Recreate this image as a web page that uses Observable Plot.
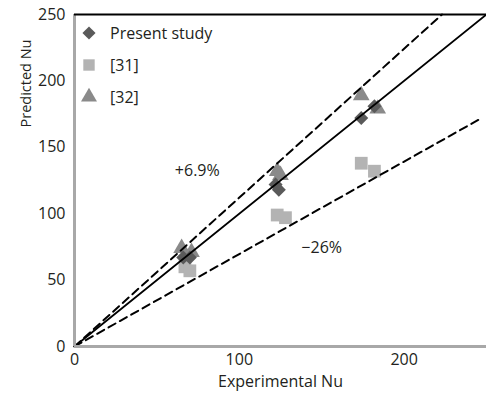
<!DOCTYPE html>
<html>
<head>
<meta charset="utf-8">
<script src="https://cdn.jsdelivr.net/npm/d3@7"></script>
<script src="https://cdn.jsdelivr.net/npm/@observablehq/plot@0.6"></script>
<style>
  html, body { margin: 0; padding: 0; background: #fff; }
  #wrap { position: relative; width: 486px; height: 398px; font-family: "Open Sans", sans-serif; color: #231f20; }
  #legend { position: absolute; left: 79px; top: 17px; font-size: 16px; }
  #legend div { display: flex; align-items: center; height: 32px; }
  #legend svg { width: 20px; height: 20px; margin-right: 11px; }
  #chart svg g[aria-label$="axis tick label"] text { font-size: 16px; }
</style>
</head>
<body>
<div id="wrap">
  <div id="chart"></div>
  <div id="legend"></div>
</div>
<script>
// Experimental Nu vs Predicted Nu
const presentStudy = [[66, 67], [70, 67], [122, 122], [124, 118], [174, 172], [182, 181]];
const ref31 = [[67, 60], [70, 57], [123, 99], [128, 97], [174, 138], [182, 132]];
const ref32 = [[65, 74], [71, 71], [123, 132], [125, 129], [174, 189], [184, 179]];

const seriesNames = ["Present study", "[31]", "[32]"];
const seriesColors = ["#5a5a5a", "#b3b3b3", "#8a8a8a"];

const xTicks = [0, 100, 200];
const yTicks = [0, 50, 100, 150, 200, 250];
const xLabel = "Experimental Nu";
const yLabel = "Predicted Nu";

// reference lines (end points)
const parityLine = [[0, 0], [250, 250]];
const upperLine = [[0, 0], [223, 250]];
const lowerLine = [[0, 0], [247, 172]];

const annotations = [
  {x: 74.5, y: 132.5, text: "+6.9%"},
  {x: 150, y: 74, text: "\u221226%"}
];

const textColor = "#231f20";
const axisGrey = "#a8a8a8";

const chart = Plot.plot({
  width: 486,
  height: 398,
  marginLeft: 74,
  marginRight: 0,
  marginTop: 14,
  marginBottom: 52,
  style: {fontFamily: "Open Sans, sans-serif", fontSize: "16px", color: textColor, background: "#fff"},
  x: {domain: [0, 250], ticks: xTicks, tickSize: 0, tickPadding: 7, label: null},
  y: {domain: [0, 250], ticks: yTicks, tickSize: 0, tickPadding: 9, label: null},
  marks: [
    Plot.dot(ref31, {x: d => d[0], y: d => d[1], symbol: "square", r: 7.2, fill: seriesColors[1], stroke: "none"}),
    Plot.dot(ref32, {x: d => d[0], y: d => d[1], symbol: "triangle", r: 6.2, fill: seriesColors[2], stroke: "none"}),
    Plot.dot(presentStudy, {x: d => d[0], y: d => d[1], symbol: "diamond2", r: 6.3, fill: seriesColors[0], stroke: "none"}),
    Plot.line(upperLine, {x: d => d[0], y: d => d[1], stroke: "#000", strokeWidth: 2, strokeDasharray: "8,5"}),
    Plot.line(lowerLine, {x: d => d[0], y: d => d[1], stroke: "#000", strokeWidth: 2, strokeDasharray: "8,5"}),
    Plot.line(parityLine, {x: d => d[0], y: d => d[1], stroke: "#000", strokeWidth: 1.8}),
    Plot.ruleX([0], {stroke: axisGrey, strokeWidth: 3}),
    Plot.ruleY([0], {stroke: axisGrey, strokeWidth: 3}),
    Plot.ruleY([250], {stroke: "#000", strokeWidth: 2}),
    Plot.text(annotations, {x: "x", y: "y", text: "text", fontSize: 16, fill: textColor}),
    Plot.text([xLabel], {frameAnchor: "bottom", dy: 40, fontSize: 16, fill: textColor}),
    Plot.text([yLabel], {frameAnchor: "top-left", dx: -54, dy: 69, rotate: -90, textAnchor: "middle", fontSize: 14.5, fill: textColor})
  ]
});
document.getElementById("chart").appendChild(chart);

// legend
const legendSymbols = [d3.symbolDiamond2, d3.symbolSquare, d3.symbolTriangle];
const legendSizes = [110, 130, 110];
const legend = document.getElementById("legend");
seriesNames.forEach((name, i) => {
  const row = document.createElement("div");
  const path = d3.symbol(legendSymbols[i], legendSizes[i])();
  row.innerHTML = `<svg viewBox="-10 -10 20 20"><path d="${path}" fill="${seriesColors[i]}"></path></svg><span>${name}</span>`;
  legend.appendChild(row);
});
</script>
</body>
</html>
